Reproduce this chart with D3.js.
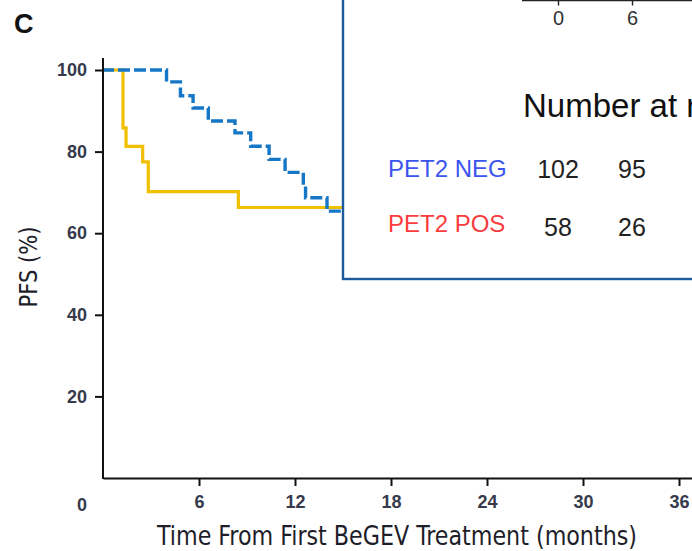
<!DOCTYPE html>
<html>
<head>
<meta charset="utf-8">
<script src="https://cdn.jsdelivr.net/npm/d3@7/dist/d3.min.js"></script>
<style>
  html, body { margin: 0; padding: 0; background: #fff; }
  svg { display: block; }
</style>
</head>
<body>
<svg id="chart" width="692" height="551"></svg>
<script>
// Kaplan-Meier PFS curves by interim PET (months from first BeGEV cycle)
const posTimes   = [0, 1.25, 1.44, 2.48, 2.83, 8.46, 16];
const posSurv    = [100, 85.8, 81.3, 77.5, 70.2, 66.3, 66.3];
const negTimes   = [0, 3.97, 4.84, 5.63, 6.58, 8.25, 9.23, 10.38, 11.38, 12.52, 12.66, 14.0, 16];
const negSurv    = [100, 97.1, 93.7, 90.7, 87.5, 84.6, 81.3, 78.1, 74.9, 71.5, 68.7, 65.4, 65.4];

const xTicks = [6, 12, 18, 24, 30, 36];
const yTicks = [20, 40, 60, 80, 100];

// Number-at-risk table
const riskMonths = [0, 6, 12];
const riskGroups = ["PET2 NEG", "PET2 POS"];
const riskNeg = [102, 95, 84];
const riskPos = [58, 26, 21];

const svg = d3.select("#chart");
const W = 692, H = 551;

const x = d3.scaleLinear().domain([0, 36.8]).range([103, 691.8]);
const y = d3.scaleLinear().domain([0, 100]).range([478, 70]);

const tickFont = "'Liberation Sans', Arial, sans-serif";
const narrowFont = "'Liberation Sans Narrow', 'Arial Narrow', 'DejaVu Sans Condensed', sans-serif";

// panel letter
svg.append("text")
  .attr("x", 14).attr("y", 33)
  .attr("font-family", tickFont).attr("font-weight", "bold")
  .attr("font-size", 27).attr("fill", "#111")
  .text("C");

// curves
const toPts = (t, s) => t.map((d, i) => [d, s[i]]);
const line = d3.line().x(d => x(d[0])).y(d => y(d[1])).curve(d3.curveStepAfter);

svg.append("path")
  .datum(toPts(posTimes, posSurv))
  .attr("d", line)
  .attr("fill", "none")
  .attr("stroke", "#f0c000")
  .attr("stroke-width", 3.2);

svg.append("path")
  .datum(toPts(negTimes, negSurv))
  .attr("d", line)
  .attr("fill", "none")
  .attr("stroke", "#1577c6")
  .attr("stroke-width", 3.4)
  .attr("stroke-dasharray", "12,4")
  .attr("stroke-dashoffset", 1);

// y axis
const yAxis = svg.append("g")
  .attr("transform", `translate(${x(0)},0)`)
  .call(d3.axisLeft(y).tickValues(yTicks).tickSize(8).tickPadding(8).tickSizeOuter(0));
yAxis.select(".domain").remove();
yAxis.append("line")
  .attr("x1", 0).attr("x2", 0)
  .attr("y1", 58).attr("y2", y(0) + 1)
  .attr("stroke", "#111").attr("stroke-width", 2);
yAxis.selectAll(".tick line").attr("stroke", "#111").attr("stroke-width", 2);
yAxis.selectAll(".tick text")
  .attr("font-family", tickFont).attr("font-weight", "bold")
  .attr("font-size", 18).attr("fill", "#363a4c");

// x axis
const xAxis = svg.append("g")
  .attr("transform", `translate(0,${y(0)})`)
  .call(d3.axisBottom(x).tickValues(xTicks).tickSize(8).tickPadding(9).tickSizeOuter(0));
xAxis.select(".domain").attr("stroke", "#111").attr("stroke-width", 2);
xAxis.selectAll(".tick line").attr("stroke", "#111").attr("stroke-width", 2);
xAxis.selectAll(".tick text")
  .attr("font-family", tickFont).attr("font-weight", "bold")
  .attr("font-size", 18).attr("fill", "#363a4c");

// shared origin label
svg.append("text")
  .attr("x", 82).attr("y", 511)
  .attr("text-anchor", "middle")
  .attr("font-family", tickFont).attr("font-weight", "bold")
  .attr("font-size", 18).attr("fill", "#363a4c")
  .text("0");

// axis titles
svg.append("text")
  .attr("x", 397).attr("y", 545)
  .attr("text-anchor", "middle")
  .attr("font-family", narrowFont)
  .attr("font-size", 27).attr("fill", "#1e1e2a")
  .attr("textLength", 480).attr("lengthAdjust", "spacingAndGlyphs")
  .text("Time From First BeGEV Treatment (months)");

svg.append("text")
  .attr("transform", "translate(37,267) rotate(-90)")
  .attr("text-anchor", "middle")
  .attr("font-family", narrowFont)
  .attr("font-size", 25).attr("fill", "#1e1e2a")
  .attr("textLength", 81).attr("lengthAdjust", "spacingAndGlyphs")
  .text("PFS (%)");

// number-at-risk inset
const inset = svg.append("g");
inset.append("rect")
  .attr("x", 343).attr("y", -6)
  .attr("width", 420).attr("height", 285)
  .attr("fill", "#fff")
  .attr("stroke", "#1d5a9e").attr("stroke-width", 2.4);

const rx = d3.scaleLinear().domain([0, 6]).range([558, 632]);
const insetFont = "'Liberation Sans', Arial, Helvetica, sans-serif";

const insetAxis = inset.append("g")
  .attr("transform", "translate(0,0.5)")
  .call(d3.axisBottom(rx).tickValues([0, 6]).tickFormat(d3.format("d"))
    .tickSize(5).tickPadding(5).tickSizeOuter(0));
insetAxis.select(".domain").remove();
insetAxis.append("line")
  .attr("x1", 522).attr("x2", W + 2)
  .attr("y1", 0).attr("y2", 0)
  .attr("stroke", "#222").attr("stroke-width", 1.6);
insetAxis.selectAll(".tick line").attr("stroke", "#222").attr("stroke-width", 1.4);
insetAxis.selectAll(".tick text")
  .attr("font-family", insetFont).attr("font-size", 20).attr("fill", "#333");

inset.append("text")
  .attr("x", 523).attr("y", 117)
  .attr("font-family", insetFont).attr("font-size", 33).attr("fill", "#111")
  .text("Number at risk");

const rowY = [178, 236];
const rowLabelY = [177, 232];
const rowColor = ["#3c55ee", "#fa3c3c"];
const rowVals = [riskNeg, riskPos];

riskGroups.forEach((g, i) => {
  inset.append("text")
    .attr("x", 388).attr("y", rowLabelY[i])
    .attr("font-family", insetFont).attr("font-size", 24)
    .attr("fill", rowColor[i])
    .text(g);
  inset.selectAll(null)
    .data(riskMonths.map((m, j) => [m, rowVals[i][j]]))
    .enter().append("text")
    .attr("x", d => rx(d[0])).attr("y", rowY[i])
    .attr("text-anchor", "middle")
    .attr("font-family", insetFont).attr("font-size", 25).attr("fill", "#222")
    .text(d => d[1]);
});
</script>
</body>
</html>
